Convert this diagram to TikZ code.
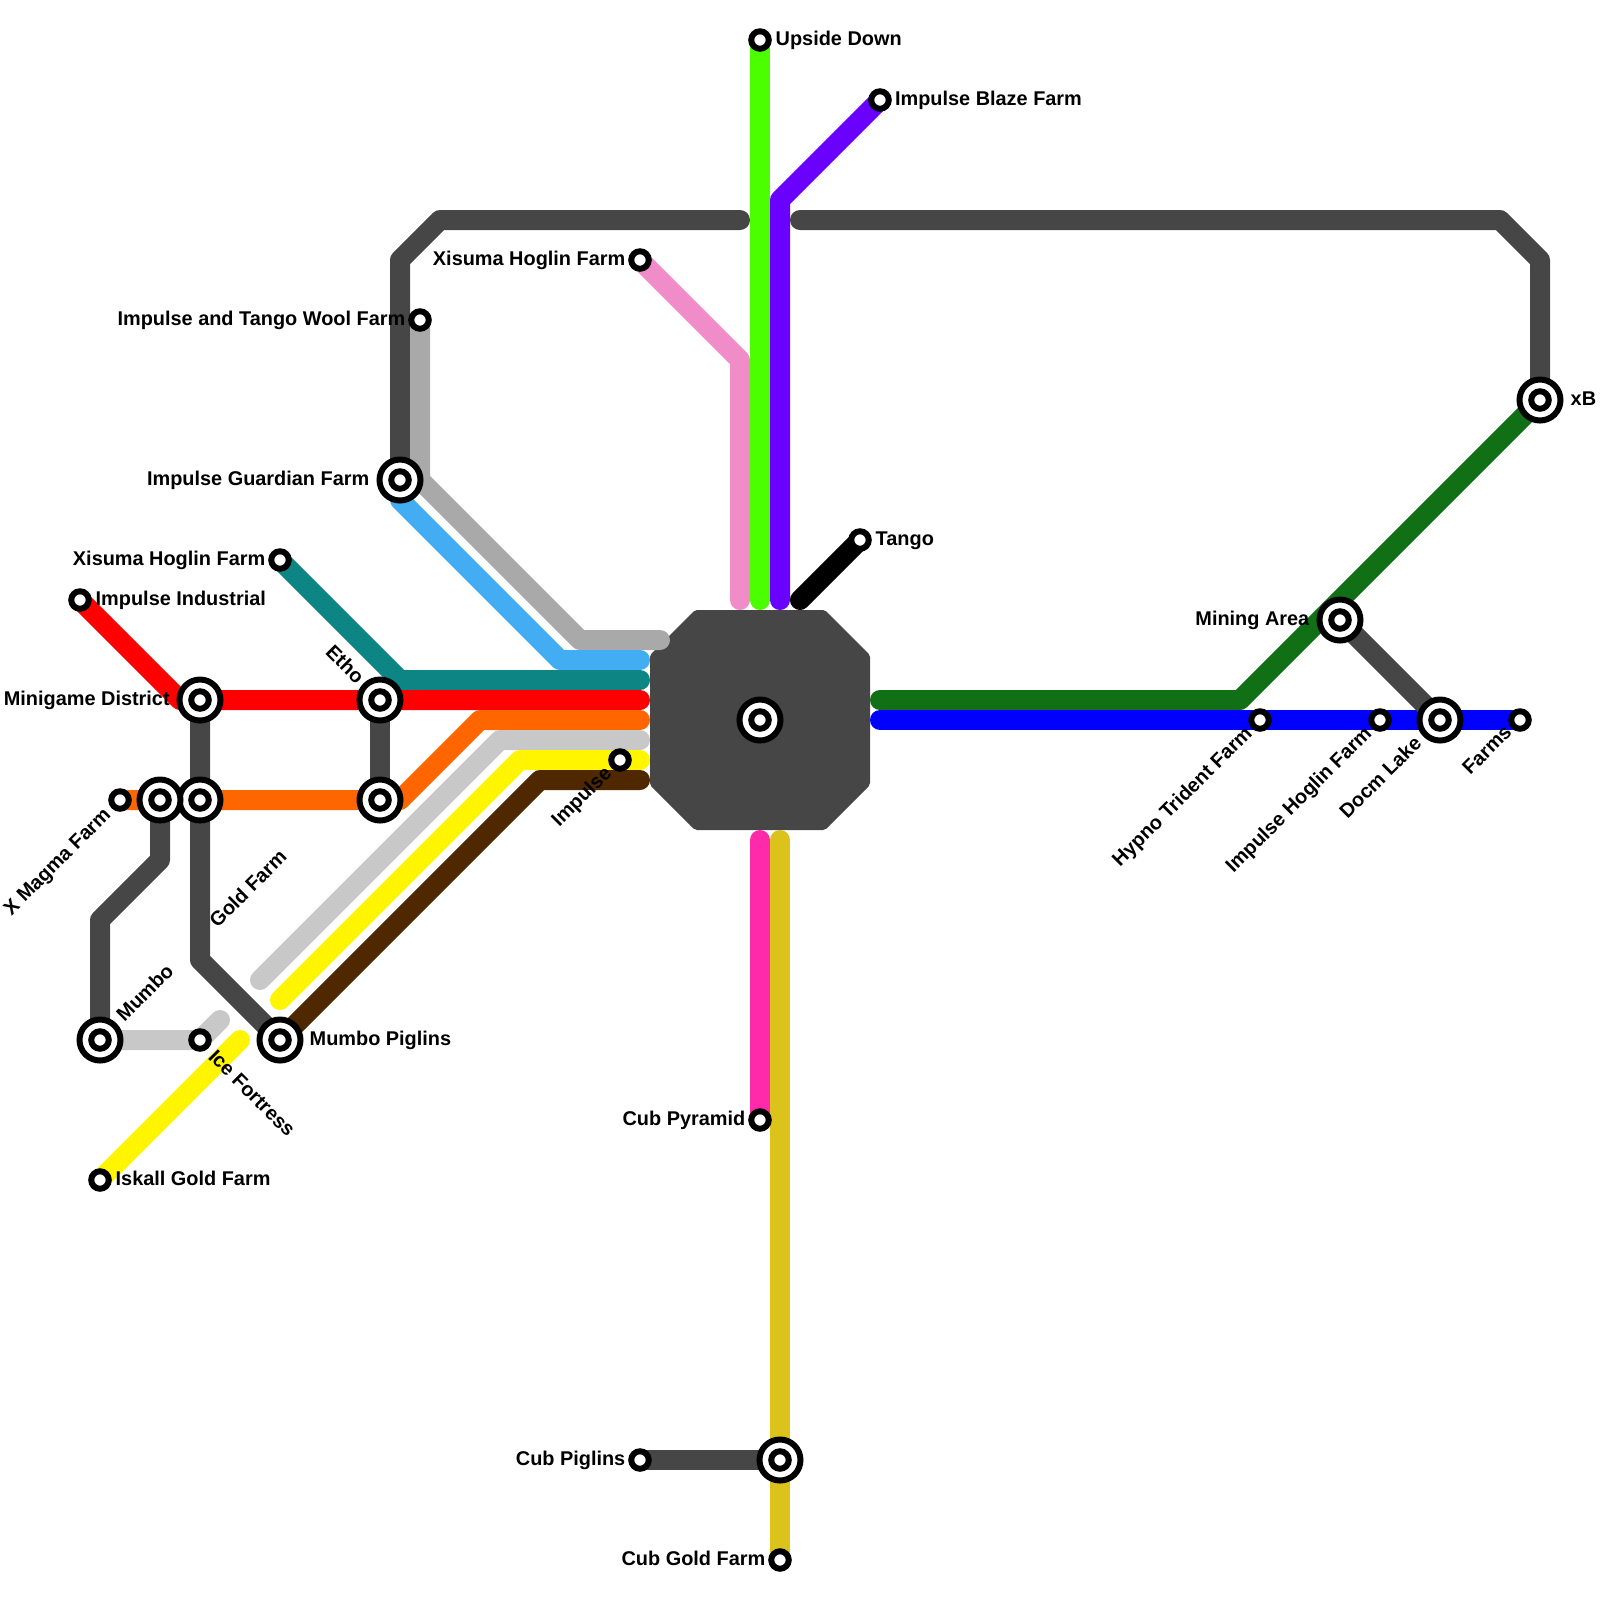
\documentclass[tikz,border=0pt]{standalone}
\usepackage{fontspec}
\setmainfont{Liberation Sans}
\usetikzlibrary{backgrounds}
\definecolor{hubgrey}{HTML}{464646}
\definecolor{lime}{HTML}{4CFF00}
\definecolor{violetline}{HTML}{6A00FF}
\definecolor{pinkline}{HTML}{F08CC8}
\definecolor{tealline}{HTML}{0E8585}
\definecolor{orangeline}{HTML}{FF6600}
\definecolor{skyline}{HTML}{42ADF2}
\definecolor{silverline}{HTML}{A9A9A9}
\definecolor{paleline}{HTML}{C8C8C8}
\definecolor{yellowline}{HTML}{FFF500}
\definecolor{brownline}{HTML}{4F2800}
\definecolor{magentaline}{HTML}{FF2AAA}
\definecolor{goldline}{HTML}{DCC31B}
\definecolor{greenline}{HTML}{116F16}
\tikzset{
    linea/.style={line width=2mm, line cap=round, line join=round},
    parada/.style={circle, draw=black, fill=white, line width=0.6mm, minimum size=1.75mm, inner sep=0pt},
    paradagrande/.style={circle, draw=black, fill=white, line width=0.6mm, minimum size=4.1mm, inner sep=0pt},
    rotulo/.style={font=\fontsize{5.66pt}{6pt}\selectfont\bfseries, inner sep=0pt, text height=1.45mm, text depth=0pt},
}

\begin{document}
\begin{tikzpicture}[x=0.2cm, y=-0.2cm]
\useasboundingbox (0,0) rectangle (80,80);
% small stops
\foreach \nm/\x/\y in {upside/38/2, blaze/44/5, xisumaN/32/13, wool/21/16, xisumaW/14/28, industrial/4/30,
    magma/6/40, ice/10/52, iskall/5/59, impulse/31/38, tango/43/27, pyramid/38/56, cubpiglins/32/73,
    cubgold/39/78, hypno/63/36, hoglin/69/36, farms/76/36}
    \node[parada] (\nm) at (\x,\y) {};
% interchange stops
\foreach \nm/\x/\y in {guardian/20/24, minigame/10/35, etho/19/35, ethoS/19/40, goldfarm/10/40, magmaE/8/40,
    mumbo/5/52, mumbopiglins/14/52, central/38/36, cubjoin/39/73, mining/67/31, xb/77/20, docm/72/36} {
    \node[paradagrande] (\nm) at (\x,\y) {};
    \node[parada] (\nm i) at (\x,\y) {};
}
% free line ends at the hub
\coordinate (endpink) at (37,30);
\coordinate (endlime) at (38,30);
\coordinate (endviolet) at (39,30);
\coordinate (endblack) at (40,30);
\coordinate (endsilver) at (33,32);
\coordinate (endsky) at (32,33);
\coordinate (endteal) at (32,34);
\coordinate (endred) at (32,35);
\coordinate (endorange) at (32,36);
\coordinate (endpale) at (32,37);
\coordinate (endyellow) at (32,38);
\coordinate (endbrown) at (32,39);
\coordinate (endgreen) at (44,35);
\coordinate (endblue) at (44,36);
\coordinate (endmagenta) at (38,42);
\coordinate (endgold) at (39,42);
\coordinate (topleft) at (37,11);
\coordinate (topright) at (40,11);
\coordinate (startpale) at (13,49);
\coordinate (startyellow) at (14,50);
\coordinate (endice) at (11,51);
\coordinate (endiskall) at (12,52);
\begin{scope}[on background layer]
\fill[hubgrey, rounded corners=0.2mm] (34.75,30.5) -- (41.25,30.5) -- (43.5,32.75) -- (43.5,39.25)
    -- (41.25,41.5) -- (34.75,41.5) -- (32.5,39.25) -- (32.5,32.75) -- cycle;
\draw[linea, pinkline] (xisumaN.center) -- (37,18) -- (endpink);
\draw[linea, lime] (upside.center) -- (endlime);
\draw[linea, violetline] (blaze.center) -- (39,10) -- (endviolet);
\draw[linea, black] (tango.center) -- (endblack);
\draw[linea, hubgrey] (guardian.center) -- (20,13) -- (22,11) -- (topleft);
\draw[linea, hubgrey] (topright) -- (75,11) -- (77,13) -- (xb.center);
\draw[linea, silverline] (wool.center) -- (21,24) -- (29,32) -- (endsilver);
\draw[linea, skyline] (guardian.center) -- (20,25) -- (28,33) -- (endsky);
\draw[linea, tealline] (xisumaW.center) -- (20,34) -- (endteal);
\draw[linea, red] (industrial.center) -- (9,35) -- (minigame.center) -- (endred);
\draw[linea, orangeline] (magma.center) -- (ethoS.center) -- (20,40) -- (24,36) -- (endorange);
\draw[linea, hubgrey] (minigame.center) -- (10,48) -- (mumbopiglins.center);
\draw[linea, hubgrey] (etho.center) -- (ethoS.center);
\draw[linea, hubgrey] (magmaE.center) -- (8,43) -- (5,46) -- (mumbo.center);
\draw[linea, paleline] (startpale) -- (25,37) -- (endpale);
\draw[linea, yellowline] (startyellow) -- (26,38) -- (endyellow);
\draw[linea, brownline] (mumbopiglins.center) -- (27,39) -- (endbrown);
\draw[linea, paleline] (mumbo.center) -- (ice.center) -- (endice);
\draw[linea, yellowline] (iskall.center) -- (endiskall);
\draw[linea, magentaline] (endmagenta) -- (pyramid.center);
\draw[linea, goldline] (endgold) -- (cubgold.center);
\draw[linea, hubgrey] (cubpiglins.center) -- (cubjoin.center);
\draw[linea, greenline] (endgreen) -- (62,35) -- (xb.center);
\draw[linea, blue] (endblue) -- (farms.center);
\draw[linea, hubgrey] (mining.center) -- (docm.center);
\end{scope}
% labels
\node[rotulo, anchor=west] (tupside) at (38.75,1.9) {Upside Down};
\node[rotulo, anchor=west] (tblaze) at (44.72,4.9) {Impulse Blaze Farm};
\node[rotulo, anchor=east] (txisumaN) at (31.3,12.9) {Xisuma Hoglin Farm};
\node[rotulo, anchor=east] (twool) at (20.3,15.9) {Impulse and Tango Wool Farm};
\node[rotulo, anchor=east] (tguardian) at (18.5,23.9) {Impulse Guardian Farm};
\node[rotulo, anchor=east] (txisumaW) at (13.3,27.9) {Xisuma Hoglin Farm};
\node[rotulo, anchor=west] (tindustrial) at (4.75,29.9) {Impulse Industrial};
\node[rotulo, anchor=east] (tminigame) at (8.52,34.9) {Minigame District};
\node[rotulo, anchor=west] (tpiglins) at (15.45,51.9) {Mumbo Piglins};
\node[rotulo, anchor=west] (tiskall) at (5.75,58.9) {Iskall Gold Farm};
\node[rotulo, anchor=west] (ttango) at (43.75,26.9) {Tango};
\node[rotulo, anchor=east] (tpyramid) at (37.3,55.9) {Cub Pyramid};
\node[rotulo, anchor=east] (tcubpiglins) at (31.3,72.9) {Cub Piglins};
\node[rotulo, anchor=east] (tcubgold) at (38.3,77.9) {Cub Gold Farm};
\node[rotulo, anchor=east] (tmining) at (65.5,30.9) {Mining Area};
\node[rotulo, anchor=west] (txb) at (78.5,19.9) {xB};
\node[rotulo, anchor=east, rotate=45] (tmagma) at (5.35,40.52) {X Magma Farm};
\node[rotulo, anchor=east, rotate=45] (timpulse) at (30.4,38.45) {Impulse};
\node[rotulo, anchor=east, rotate=45] (thypno) at (62.42,36.45) {Hypno Trident Farm};
\node[rotulo, anchor=east, rotate=45] (thoglin) at (68.4,36.45) {Impulse Hoglin Farm};
\node[rotulo, anchor=east, rotate=45] (tdocm) at (70.9,36.95) {Docm Lake};
\node[rotulo, anchor=east, rotate=45] (tfarms) at (75.4,36.4) {Farms};
\node[rotulo, anchor=west, rotate=45] (tmumbo) at (5.95,50.9) {Mumbo};
\node[rotulo, anchor=west, rotate=45] (tgold) at (10.6,46.2) {Gold Farm};
\node[rotulo, anchor=east, rotate=-45] (tetho) at (18.08,34) {Etho};
\node[rotulo, anchor=west, rotate=-45] (tice) at (10.6,52.62) {Ice Fortress};
\end{tikzpicture}
\end{document}
